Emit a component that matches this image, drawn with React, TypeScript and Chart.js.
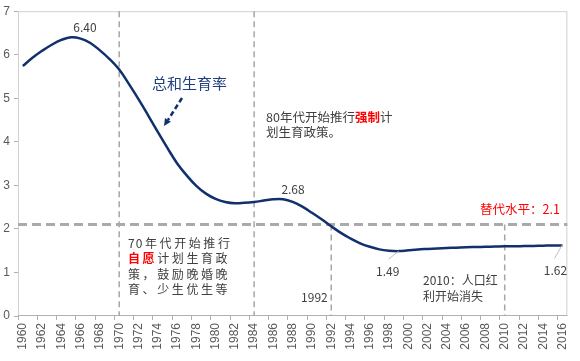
import React, { useEffect, useRef } from 'react';
import { Chart, registerables } from 'chart.js';

Chart.register(...registerables);

const years = [
  '1960', '1961', '1962', '1963', '1964', '1965', '1966', '1967', '1968', '1969',
  '1970', '1971', '1972', '1973', '1974', '1975', '1976', '1977', '1978', '1979',
  '1980', '1981', '1982', '1983', '1984', '1985', '1986', '1987', '1988', '1989',
  '1990', '1991', '1992', '1993', '1994', '1995', '1996', '1997', '1998', '1999',
  '2000', '2001', '2002', '2003', '2004', '2005', '2006', '2007', '2008', '2009',
  '2010', '2011', '2012', '2013', '2014', '2015', '2016',
];

const tfr = [
  5.74, 5.93, 6.09, 6.23, 6.34, 6.40, 6.37, 6.27, 6.10, 5.90,
  5.66, 5.33, 4.98, 4.61, 4.23, 3.86, 3.51, 3.23, 2.99, 2.81,
  2.69, 2.62, 2.59, 2.60, 2.62, 2.65, 2.68, 2.68, 2.62, 2.51,
  2.37, 2.22, 2.06, 1.91, 1.78, 1.67, 1.59, 1.53, 1.50, 1.49,
  1.51, 1.53, 1.54, 1.55, 1.56, 1.57, 1.58, 1.585, 1.59, 1.595,
  1.60, 1.60, 1.605, 1.61, 1.615, 1.62, 1.62,
];

const yMin = 0;
const yMax = 7;
const replacementLevel = 2.1;
const fullHeightLines = ['1970', '1984'];
const lowerLines = ['1992', '2010'];
const peakYear = '1965';
const secondPeakYear = '1987';
const lowYear = '1999';
const lastYear = '2016';

const seriesName = '总和生育率';
const text80s = [
  [['80年代开始推行', false], ['强制', true], ['计', false]],
  [['划生育政策。', false]],
];
const text70s = [
  [['70年代开始推行', false]],
  [['自愿', true], ['计划生育政', false]],
  [['策，鼓励晚婚晚', false]],
  [['育、少生优生等', false]],
];
const text2010 = ['2010：人口红', '利开始消失'];
const replacementText = '替代水平：2.1';

const CJK = '"Noto Sans CJK SC", "Noto Sans", sans-serif';
const TEXT = '#404040';
const RED = '#ff0000';
const NAVY = '#10306e';

function drawRich(
  ctx: CanvasRenderingContext2D,
  segs: any[],
  x: number,
  y: number,
  size: number,
  spacing: number,
) {
  let cx = x;
  for (const [t, hot] of segs) {
    ctx.font = `${hot ? 'bold ' : ''}${size}px ${CJK}`;
    ctx.fillStyle = hot ? RED : TEXT;
    const chars = Array.from(t as string);
    chars.forEach((ch, k) => {
      ctx.fillText(ch, cx, y);
      const isDigit = /[0-9]/.test(ch) && k + 1 < chars.length && /[0-9]/.test(chars[k + 1]);
      cx += ctx.measureText(ch).width + (isDigit ? spacing * 0.4 : spacing);
    });
  }
}

const annotPlugin = {
  id: 'annot',
  beforeDatasetsDraw(chart: any) {
    const { ctx, chartArea: ca, scales } = chart;
    const xs = scales.x;
    const ys = scales.y;
    ctx.save();
    ctx.strokeStyle = '#d0d0d0';
    ctx.lineWidth = 1;
    ctx.strokeRect(ca.left + 0.5, ca.top + 0.5, ca.width - 1, ca.height - 1);
    ctx.strokeStyle = '#b0b0b0';
    ctx.beginPath();
    ctx.moveTo(ca.left, ca.bottom - 0.5);
    ctx.lineTo(ca.right, ca.bottom - 0.5);
    ctx.stroke();

    const yr = ys.getPixelForValue(replacementLevel);
    ctx.strokeStyle = '#a6a6a6';
    ctx.lineWidth = 1.5;
    ctx.setLineDash([6, 4]);
    const vline = (px: number, y0: number, y1: number) => {
      ctx.beginPath();
      ctx.moveTo(px, y0);
      ctx.lineTo(px, y1);
      ctx.stroke();
    };
    for (const yl of fullHeightLines) {
      vline(xs.getPixelForValue(years.indexOf(yl)), ca.top, ca.bottom);
    }
    for (const yl of lowerLines) {
      vline(xs.getPixelForValue(years.indexOf(yl)), yr, ca.bottom);
    }
    ctx.lineWidth = 3;
    ctx.strokeStyle = '#aaaaaa';
    ctx.setLineDash([9, 5]);
    ctx.beginPath();
    ctx.moveTo(ca.left, yr);
    ctx.lineTo(ca.right, yr);
    ctx.stroke();
    ctx.restore();
  },
  afterDatasetsDraw(chart: any) {
    const { ctx, scales } = chart;
    const xs = scales.x;
    const ys = scales.y;
    const pt = (year: string) => {
      const i = years.indexOf(year);
      return { x: xs.getPixelForValue(i), y: ys.getPixelForValue(tfr[i]), v: tfr[i] };
    };
    ctx.save();
    ctx.textBaseline = 'middle';
    ctx.textAlign = 'center';
    ctx.fillStyle = TEXT;
    ctx.font = `12px ${CJK}`;

    const p1 = pt(peakYear);
    ctx.fillText(p1.v.toFixed(2), p1.x + 14, p1.y - 10);
    const p2 = pt(secondPeakYear);
    ctx.fillText(p2.v.toFixed(2), p2.x + 10, p2.y - 10);
    const p3 = pt(lowYear);
    ctx.fillText(p3.v.toFixed(2), p3.x - 11, p3.y + 20);
    const p4 = pt(lastYear);
    ctx.fillText(p4.v.toFixed(2), p4.x - 7, p4.y + 25);

    ctx.strokeStyle = '#bfbfbf';
    ctx.lineWidth = 1;
    ctx.beginPath();
    ctx.moveTo(p3.x, p3.y);
    ctx.lineTo(p3.x - 10, p3.y + 8);
    ctx.moveTo(p4.x, p4.y - 1);
    ctx.lineTo(p4.x - 8, p4.y + 13);
    ctx.stroke();

    const x1992 = xs.getPixelForValue(years.indexOf('1992'));
    ctx.textAlign = 'right';
    ctx.fillText('1992', x1992 - 3.5, ys.getPixelForValue(0.43));

    ctx.textAlign = 'left';
    ctx.font = `15px ${CJK}`;
    ctx.fillStyle = '#1f3f7f';
    ctx.fillText(seriesName, 152, 83);

    ctx.strokeStyle = NAVY;
    ctx.fillStyle = NAVY;
    ctx.lineWidth = 2.5;
    ctx.setLineDash([5, 3]);
    ctx.beginPath();
    ctx.moveTo(182, 98);
    ctx.lineTo(168, 120);
    ctx.stroke();
    ctx.setLineDash([]);
    const ang = Math.atan2(126 - 98, 164 - 182);
    const tipX = 164;
    const tipY = 126;
    ctx.beginPath();
    ctx.moveTo(tipX, tipY);
    ctx.lineTo(tipX - 8 * Math.cos(ang - 0.45), tipY - 8 * Math.sin(ang - 0.45));
    ctx.lineTo(tipX - 8 * Math.cos(ang + 0.45), tipY - 8 * Math.sin(ang + 0.45));
    ctx.closePath();
    ctx.fill();

    text80s.forEach((line, i) => drawRich(ctx, line, 266, 117 + i * 15.5, 12.5, 0));
    text70s.forEach((line, i) => drawRich(ctx, line, 128, 243 + i * 15.5, 12, 2.6));
    ctx.fillStyle = TEXT;
    ctx.font = `12px ${CJK}`;
    text2010.forEach((line, i) => ctx.fillText(line, 423, 280 + i * 16));
    ctx.fillStyle = RED;
    ctx.font = `12.5px ${CJK}`;
    ctx.fillText(replacementText, 480, 209);
    ctx.restore();
  },
};

export default function App() {
  const ref = useRef<HTMLCanvasElement | null>(null);
  useEffect(() => {
    document.body.style.margin = '0';
    const canvas = ref.current;
    if (!canvas) return;
    const tickFont = { family: '"Liberation Sans", Arial, sans-serif', size: 12 };
    const chart = new Chart(canvas, {
      type: 'line',
      data: {
        labels: years,
        datasets: [
          {
            label: seriesName,
            data: tfr,
            borderColor: NAVY,
            borderWidth: 2.5,
            pointRadius: 0,
            tension: 0.4,
            fill: false,
          },
        ],
      },
      options: {
        animation: false,
        responsive: false,
        maintainAspectRatio: false,
        layout: { padding: { top: 8, right: 8, left: 0, bottom: 0 } },
        plugins: { legend: { display: false }, tooltip: { enabled: false } },
        scales: {
          x: {
            offset: true,
            border: { display: false },
            grid: {
              offset: true,
              drawOnChartArea: false,
              tickLength: 4,
              color: (c: any) => (c.index % 2 === 0 ? '#b0b0b0' : 'rgba(0,0,0,0)'),
            },
            ticks: {
              autoSkip: false,
              minRotation: 90,
              maxRotation: 90,
              padding: 3,
              font: tickFont,
              color: '#595959',
              callback: (_v: any, i: number) => (i % 2 === 0 ? years[i] : ''),
            },
            afterFit: (s: any) => {
              s.height = 45;
            },
          },
          y: {
            min: yMin,
            max: yMax,
            border: { display: false },
            grid: { drawOnChartArea: false, tickLength: 4, color: '#b0b0b0' },
            ticks: { stepSize: 1, padding: 4, font: tickFont, color: '#595959' },
            afterFit: (s: any) => {
              s.width = 18;
            },
          },
        },
      },
      plugins: [annotPlugin],
    } as any);
    return () => chart.destroy();
  }, []);
  return (
    <div style={{ position: 'fixed', left: 0, top: 0, width: 580, height: 361, background: '#fff' }}>
      <canvas ref={ref} width={580} height={361} style={{ display: 'block' }} />
    </div>
  );
}
